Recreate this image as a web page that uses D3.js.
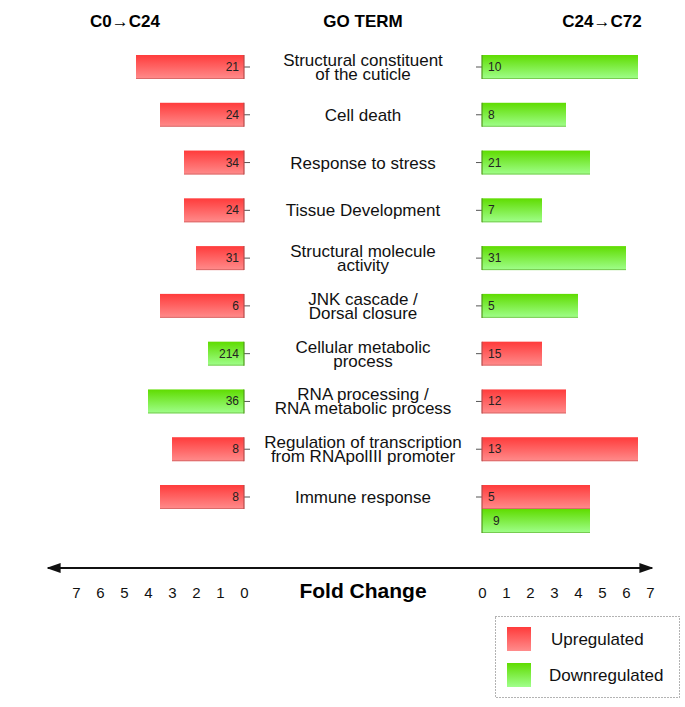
<!DOCTYPE html>
<html>
  <head>
    <meta charset="utf-8" />
    <title>GO term fold change</title>
    <script src="https://cdnjs.cloudflare.com/ajax/libs/d3/7.8.5/d3.min.js"></script>
    <style>
      body { margin: 0; background: #fff; }
      text { font-family: "Liberation Sans", Arial, sans-serif; }
    </style>
  </head>
  <body>
    <div id="chart"></div>
    <script>
      // GO terms, top to bottom (each entry = lines of the label)
      const terms = [
        ["Structural constituent", "of the cuticle"],
        ["Cell death"],
        ["Response to stress"],
        ["Tissue Development"],
        ["Structural molecule", "activity"],
        ["JNK cascade /", "Dorsal closure"],
        ["Cellular metabolic", "process"],
        ["RNA processing /", "RNA metabolic process"],
        ["Regulation of transcription", "from RNApolIII promoter"],
        ["Immune response"],
      ];
      const termKeys = terms.map((t) => t.join(" "));

      // C0 -> C24
      const leftFold = [4.5, 3.5, 2.5, 2.5, 2.0, 3.5, 1.5, 4.0, 3.0, 3.5];
      const leftCount = [21, 24, 34, 24, 31, 6, 214, 36, 8, 8];
      const leftDir = ["up", "up", "up", "up", "up", "up", "down", "down", "up", "up"];

      // C24 -> C72
      const rightFold = [6.5, 3.5, 4.5, 2.5, 6.0, 4.0, 2.5, 3.5, 6.5, 4.5];
      const rightCount = [10, 8, 21, 7, 31, 5, 15, 12, 13, 5];
      const rightDir = ["down", "down", "down", "down", "down", "down", "up", "up", "up", "up"];

      // second bar under "Immune response" on the right side
      const extraTerm = "Immune response";
      const extraFold = 4.5;
      const extraCount = 9;
      const extraDir = "down";

      const ticks = [0, 1, 2, 3, 4, 5, 6, 7];

      const width = 685,
        height = 707,
        barH = 24;

      const svg = d3
        .select("#chart")
        .append("svg")
        .attr("width", width)
        .attr("height", height);

      const defs = svg.append("defs");
      const grads = {
        up: ["#ff3b3b", "#ff8c8c"],
        down: ["#5fdc00", "#a0ff8c"],
      };
      Object.entries(grads).forEach(([k, c]) => {
        const g = defs
          .append("linearGradient")
          .attr("id", "g-" + k)
          .attr("x1", 0).attr("y1", 0).attr("x2", 0).attr("y2", 1);
        g.append("stop").attr("offset", "0%").attr("stop-color", c[0]);
        g.append("stop").attr("offset", "100%").attr("stop-color", c[1]);
      });
      const edge = { up: "#b84a4a", down: "#4f9a1a" };

      const xL = d3.scaleLinear().domain([7, 0]).range([76, 244]);
      const xR = d3.scaleLinear().domain([0, 7]).range([482, 650]);
      const y = d3.scalePoint().domain(termKeys).range([67, 497]);

      const leftData = termKeys.map((k, i) => ({
        key: k, fold: leftFold[i], count: leftCount[i], dir: leftDir[i], off: 0,
      }));
      const rightData = termKeys.map((k, i) => ({
        key: k, fold: rightFold[i], count: rightCount[i], dir: rightDir[i], off: 0,
      }));
      rightData.push({ key: extraTerm, fold: extraFold, count: extraCount, dir: extraDir, off: 1 });

      // tick marks on each row
      svg.selectAll(".tickL").data(termKeys).join("line")
        .attr("x1", xL(0)).attr("x2", xL(0) + 6)
        .attr("y1", (d) => y(d)).attr("y2", (d) => y(d))
        .attr("stroke", "#555");
      svg.selectAll(".tickR").data(termKeys).join("line")
        .attr("x1", xR(0) - 6).attr("x2", xR(0))
        .attr("y1", (d) => y(d)).attr("y2", (d) => y(d))
        .attr("stroke", "#555");

      // left bars
      const gl = svg.selectAll(".barL").data(leftData).join("g");
      gl.append("rect")
        .attr("x", (d) => xL(d.fold))
        .attr("y", (d) => y(d.key) - barH / 2)
        .attr("width", (d) => xL(0) - xL(d.fold))
        .attr("height", barH)
        .attr("fill", (d) => `url(#g-${d.dir})`);
      gl.append("line")
        .attr("x1", xL(0)).attr("x2", xL(0))
        .attr("y1", (d) => y(d.key) - barH / 2)
        .attr("y2", (d) => y(d.key) + barH / 2)
        .attr("stroke", (d) => edge[d.dir]).attr("stroke-width", 1.2);
      gl.append("line")
        .attr("x1", (d) => xL(d.fold)).attr("x2", xL(0))
        .attr("y1", (d) => y(d.key) + barH / 2 - 0.5)
        .attr("y2", (d) => y(d.key) + barH / 2 - 0.5)
        .attr("stroke", (d) => edge[d.dir]).attr("stroke-opacity", 0.5);
      gl.append("text")
        .attr("x", xL(0) - 5)
        .attr("y", (d) => y(d.key) + 4)
        .attr("text-anchor", "end")
        .attr("font-size", 12)
        .attr("fill", "#222")
        .text((d) => d.count);

      // right bars
      const gr = svg.selectAll(".barR").data(rightData).join("g");
      gr.append("rect")
        .attr("x", xR(0))
        .attr("y", (d) => y(d.key) - barH / 2 + d.off * barH)
        .attr("width", (d) => xR(d.fold) - xR(0))
        .attr("height", barH)
        .attr("fill", (d) => `url(#g-${d.dir})`);
      gr.append("line")
        .attr("x1", xR(0)).attr("x2", xR(0))
        .attr("y1", (d) => y(d.key) - barH / 2 + d.off * barH)
        .attr("y2", (d) => y(d.key) + barH / 2 + d.off * barH)
        .attr("stroke", (d) => edge[d.dir]).attr("stroke-width", 1.2);
      gr.append("line")
        .attr("x1", xR(0)).attr("x2", (d) => xR(d.fold))
        .attr("y1", (d) => y(d.key) + barH / 2 - 0.5 + d.off * barH)
        .attr("y2", (d) => y(d.key) + barH / 2 - 0.5 + d.off * barH)
        .attr("stroke", (d) => edge[d.dir]).attr("stroke-opacity", 0.5);
      gr.append("text")
        .attr("x", (d) => xR(0) + (d.off ? 11 : 6))
        .attr("y", (d) => y(d.key) + 4 + d.off * barH)
        .attr("font-size", 12)
        .attr("fill", "#222")
        .text((d) => d.count);

      // GO term labels
      const midX = 363;
      svg.selectAll(".term").data(terms).join("text")
        .attr("x", midX)
        .attr("y", (d, i) => y(termKeys[i]) + 6 - (d.length - 1) * 7)
        .attr("text-anchor", "middle")
        .attr("font-size", 17)
        .attr("fill", "#111")
        .each(function (d) {
          d3.select(this).selectAll("tspan").data(d).join("tspan")
            .attr("x", midX)
            .attr("dy", (l, j) => (j ? 14 : 0))
            .text((l) => l);
        });

      // headers
      const head = [
        [125, "C0\u2192C24"],
        [midX, "GO TERM"],
        [602, "C24\u2192C72"],
      ];
      svg.selectAll(".head").data(head).join("text")
        .attr("x", (d) => d[0]).attr("y", 27)
        .attr("text-anchor", "middle")
        .attr("font-size", 17).attr("font-weight", "bold")
        .text((d) => d[1]);

      // double-headed axis arrow
      defs.append("marker")
        .attr("id", "arr").attr("viewBox", "0 0 10 10")
        .attr("refX", 9).attr("refY", 5)
        .attr("markerWidth", 7).attr("markerHeight", 7)
        .attr("orient", "auto-start-reverse")
        .append("path").attr("d", "M0,1.5L10,5L0,8.5z").attr("fill", "#111");
      svg.append("line")
        .attr("x1", 48).attr("x2", 652).attr("y1", 568).attr("y2", 568)
        .attr("stroke", "#111").attr("stroke-width", 2)
        .attr("marker-start", "url(#arr)").attr("marker-end", "url(#arr)");

      // tick labels
      const axL = svg.append("g").attr("transform", "translate(0,587)")
        .call(d3.axisBottom(xL).tickValues(ticks).tickFormat(d3.format("d")).tickSize(0).tickPadding(0));
      const axR = svg.append("g").attr("transform", "translate(0,587)")
        .call(d3.axisBottom(xR).tickValues(ticks).tickFormat(d3.format("d")).tickSize(0).tickPadding(0));
      [axL, axR].forEach((a) => {
        a.select(".domain").remove();
        a.selectAll("text")
          .attr("font-family", "Liberation Sans, Arial, sans-serif")
          .attr("font-size", 15).attr("fill", "#111");
      });

      svg.append("text")
        .attr("x", midX).attr("y", 598)
        .attr("text-anchor", "middle")
        .attr("font-size", 21).attr("font-weight", "bold")
        .text("Fold Change");

      // legend
      const lg = svg.append("g");
      lg.append("rect")
        .attr("x", 495.5).attr("y", 616.5).attr("width", 184).attr("height", 81)
        .attr("fill", "none").attr("stroke", "#666")
        .attr("stroke-dasharray", "1,2");
      const legend = [["up", "Upregulated"], ["down", "Downregulated"]];
      lg.selectAll(".sw").data(legend).join("rect")
        .attr("x", 507).attr("y", (d, i) => 627 + i * 36)
        .attr("width", 24).attr("height", 24)
        .attr("fill", (d) => `url(#g-${d[0]})`);
      lg.selectAll(".lt").data(legend).join("text")
        .attr("x", (d, i) => (i ? 549 : 551))
        .attr("y", (d, i) => 645 + i * 36)
        .attr("font-size", 17).attr("fill", "#111")
        .text((d) => d[1]);
    </script>
  </body>
</html>
